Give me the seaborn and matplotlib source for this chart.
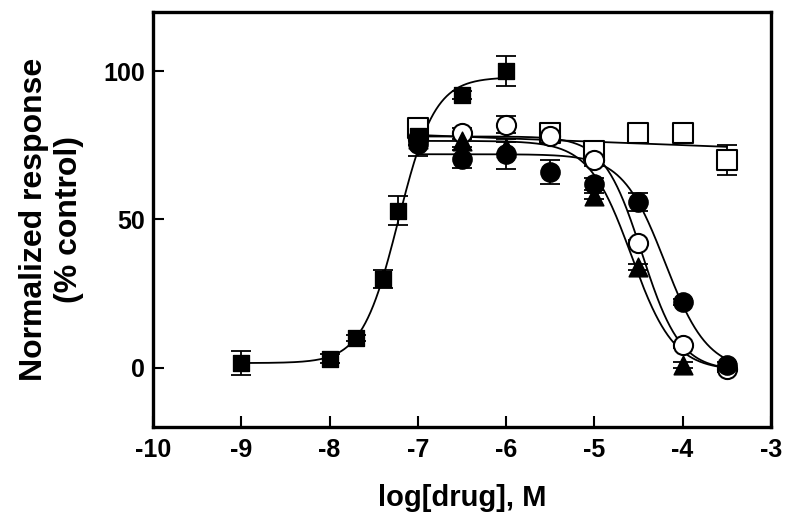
import numpy as np
import pandas as pd
import matplotlib
matplotlib.use("Agg")
import matplotlib.pyplot as plt
import seaborn as sns

sq_x = [-9, -8, -7.7, -7.4, -7.22, -7, -6.5, -6]
sq_y = [1.5, 3, 10, 30, 53, 78, 92, 100]
sq_err = [4, 1.5, 1, 3, 5, 3, 1.5, 5]

osq_x = [-7, -5.5, -5, -4.5, -4, -3.5]
osq_y = [81, 79, 73, 79, 79, 70]
osq_err = [3, 1, 3, 1, 1, 5]

oc_x = [-7, -6.5, -6, -5.5, -5, -4.5, -4, -3.5]
oc_y = [77, 79, 82, 78, 70, 42, 7.5, -0.5]
oc_err = [2, 2, 3, 1, 2, 1, 1, 1]

fc_x = [-7, -6.5, -6, -5.5, -5, -4.5, -4, -3.5]
fc_y = [75.5, 70.5, 72, 66, 62, 56, 22, 1]
fc_err = [4, 3, 5, 4, 2, 3, 1, 1]

tri_x = [-7, -6.5, -6, -5, -4.5, -4]
tri_y = [77, 76.5, 74, 58, 34, 1]
tri_err = [2, 2, 2, 1, 1, 1]

# fitted curve parameters: bottom, top, logEC50, hill, x range
sq_fit = (1.5, 98, -7.22, 2.1, -9, -6)
oc_fit = (-1, 78, -4.46, 2.0, -7, -3.5)
fc_fit = (-1, 72, -4.2, 1.8, -7, -3.5)
tri_fit = (-1, 76.5, -4.58, 1.8, -7, -3.5)
osq_line = (78.5, 74.5, -7, -3.5)


def sigmoid(p, rising):
    bottom, top, mid, hill, x0, x1 = p
    x = np.linspace(x0, x1, 300)
    if rising:
        y = bottom + (top - bottom) / (1 + 10 ** ((mid - x) * hill))
    else:
        y = bottom + (top - bottom) / (1 + 10 ** ((x - mid) * hill))
    return pd.DataFrame({"x": x, "y": y})


sns.set_style("ticks")
plt.rcParams["font.family"] = ["Liberation Sans", "DejaVu Sans"]
plt.rcParams["font.weight"] = "bold"
plt.rcParams["text.color"] = "black"
plt.rcParams["axes.labelcolor"] = "black"
plt.rcParams["xtick.color"] = "black"
plt.rcParams["ytick.color"] = "black"
plt.rcParams["axes.edgecolor"] = "black"

fig = plt.figure(figsize=(7.85, 5.23), dpi=100)
ax = fig.add_axes([0.195, 0.184, 0.787, 0.793])

# curves
for df in [sigmoid(sq_fit, True), sigmoid(oc_fit, False),
           sigmoid(fc_fit, False), sigmoid(tri_fit, False)]:
    sns.lineplot(data=df, x="x", y="y", ax=ax, color="black", lw=1.3, zorder=2)
y0, y1, x0, x1 = osq_line
sns.lineplot(x=[x0, x1], y=[y0, y1], ax=ax, color="black", lw=1.3, zorder=2)

# error bars
for xs, ys, es in [(sq_x, sq_y, sq_err), (osq_x, osq_y, osq_err), (oc_x, oc_y, oc_err),
                   (fc_x, fc_y, fc_err), (tri_x, tri_y, tri_err)]:
    ax.errorbar(xs, ys, yerr=es, fmt="none", ecolor="black", elinewidth=1.3,
                capsize=7, capthick=1.3, zorder=3)

# markers
sns.scatterplot(x=osq_x, y=osq_y, ax=ax, marker="s", s=190, facecolor="white",
                edgecolor="black", linewidth=1.5, zorder=4)
sns.scatterplot(x=oc_x, y=oc_y, ax=ax, marker="o", s=190, facecolor="white",
                edgecolor="black", linewidth=1.5, zorder=5)
sns.scatterplot(x=fc_x, y=fc_y, ax=ax, marker="o", s=190, color="black",
                edgecolor="black", zorder=6)
sns.scatterplot(x=tri_x, y=tri_y, ax=ax, marker="^", s=180, color="black",
                edgecolor="black", zorder=6)
sns.scatterplot(x=sq_x, y=sq_y, ax=ax, marker="s", s=140, color="black",
                edgecolor="black", zorder=7)

ax.set_xlim(-10, -3)
ax.set_ylim(-20, 120)
ax.set_xticks(range(-10, -2))
ax.set_yticks([0, 50, 100])
ax.set_xticklabels([str(t) for t in range(-10, -2)])
ax.tick_params(direction="in", length=8, width=1.5, labelsize=18, colors="black")
ax.tick_params(axis="x", pad=8)
ax.tick_params(axis="y", pad=6)
for lab in ax.get_xticklabels() + ax.get_yticklabels():
    lab.set_fontweight("bold")
for sp in ax.spines.values():
    sp.set_linewidth(2.4)
    sp.set_color("black")
    sp.set_visible(True)

ax.set_xlabel("log[drug], M", fontsize=21, fontweight="bold", labelpad=16)
ax.set_ylabel("Normalized response\n(% control)", fontsize=23, fontweight="bold",
              labelpad=14, linespacing=1.2)

fig.savefig("out.png", dpi=100)
